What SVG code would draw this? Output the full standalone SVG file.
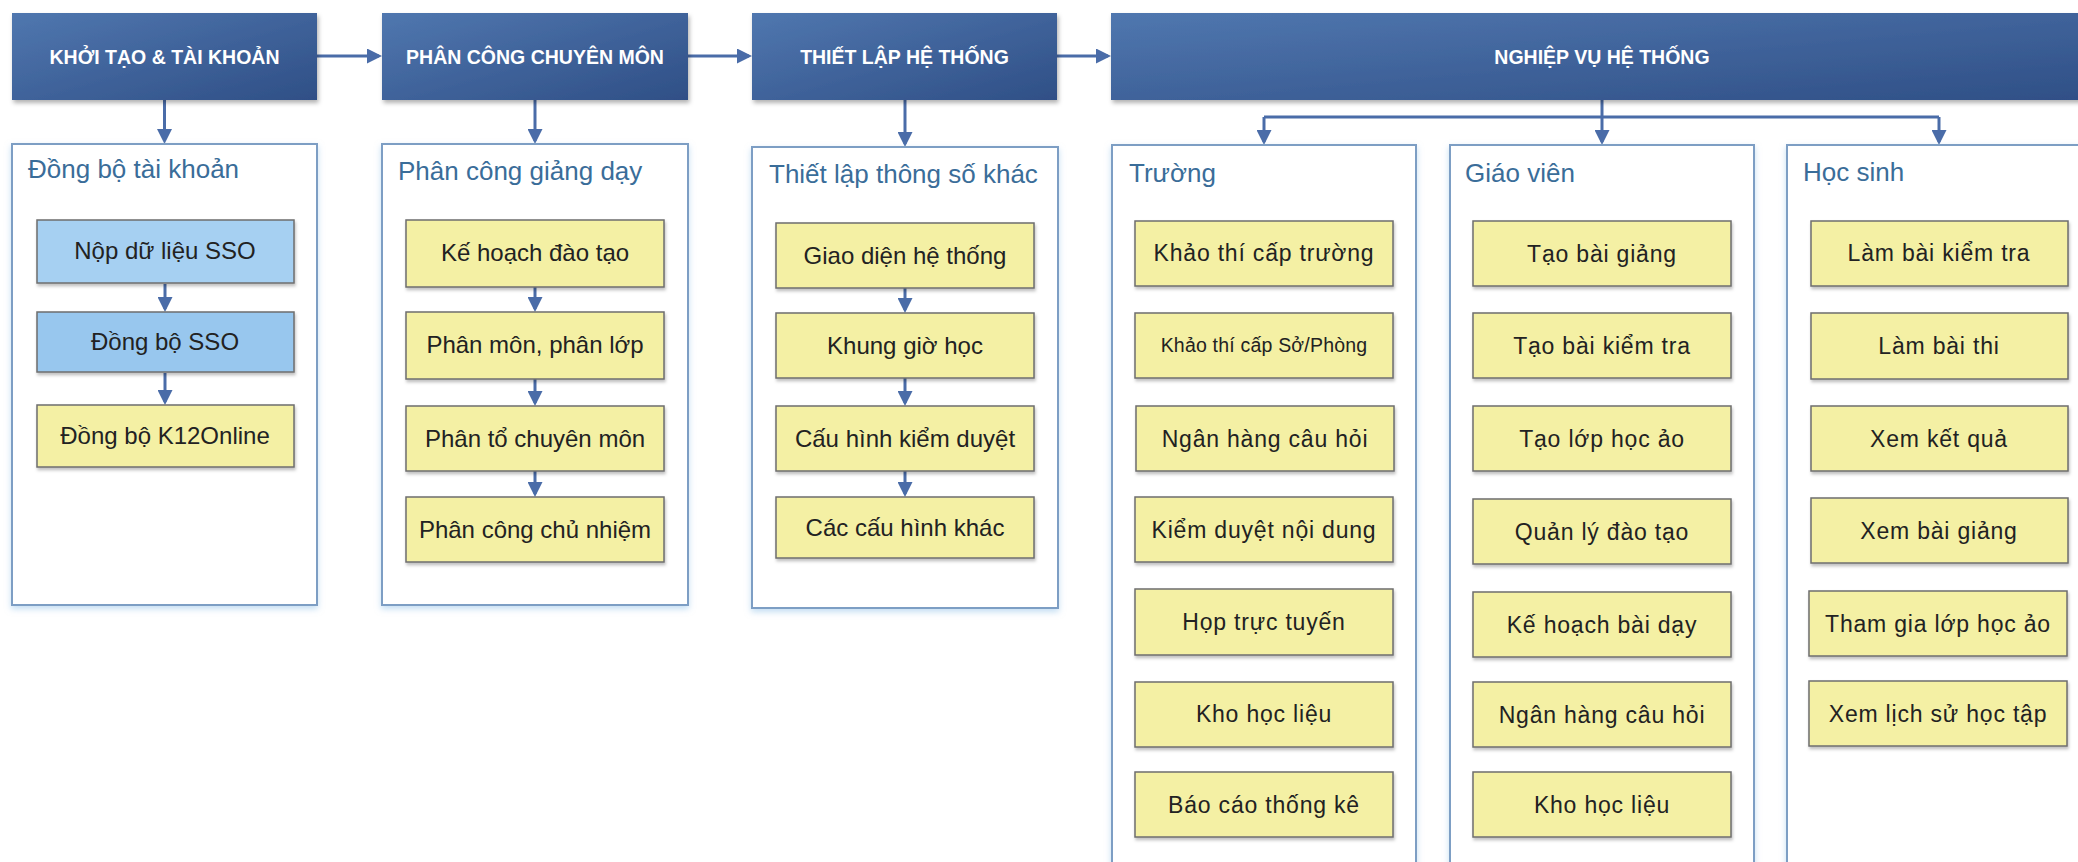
<svg xmlns="http://www.w3.org/2000/svg" width="2078" height="862" viewBox="0 0 2078 862">
<style>
.hdr{fill:url(#hg);filter:url(#sh)}
.htx{font-family:"Liberation Sans",Arial,sans-serif;font-size:19.5px;font-weight:bold;fill:#ffffff;text-anchor:middle}
.grp{fill:#ffffff;stroke:#7d9ec4;stroke-width:2;filter:url(#gs)}
.gtl{font-family:"Liberation Sans",Arial,sans-serif;font-size:26px;fill:#3a6d99}
.it{fill:#f4f0a4;stroke:#6e6e6e;stroke-width:1.5;filter:url(#is)}
.itb{fill:#a6d0f2;stroke:#6e6e6e;stroke-width:1.5;filter:url(#is)}
.itb2{fill:#98c7ee;stroke:#6e6e6e;stroke-width:1.5;filter:url(#is)}
.t1{font-family:"Liberation Sans",Arial,sans-serif;font-size:24px;fill:#222;text-anchor:middle}
.t2{font-family:"Liberation Sans",Arial,sans-serif;font-size:23px;letter-spacing:0.8px;fill:#222;text-anchor:middle}
.t3{font-family:"Liberation Sans",Arial,sans-serif;font-size:19.5px;letter-spacing:0.2px;fill:#222;text-anchor:middle}
.cn{fill:none;stroke:#4a6ca8;stroke-width:3}
.ar{marker-end:url(#ah)}
</style>
<defs>
<linearGradient id="hg" x1="0" y1="0" x2="1" y2="1">
<stop offset="0" stop-color="#5077af"/>
<stop offset="1" stop-color="#2f4f86"/>
</linearGradient>
<filter id="sh" x="-5%" y="-10%" width="115%" height="140%"><feDropShadow dx="1.5" dy="3" stdDeviation="2" flood-color="#000" flood-opacity="0.3"/></filter>
<filter id="gs" x="-5%" y="-5%" width="110%" height="115%"><feDropShadow dx="0" dy="3" stdDeviation="3" flood-color="#9cc8ea" flood-opacity="0.6"/></filter>
<filter id="is" x="-5%" y="-10%" width="115%" height="140%"><feDropShadow dx="1" dy="2.5" stdDeviation="1.5" flood-color="#000" flood-opacity="0.25"/></filter>
<marker id="ah" viewBox="0 0 10 10" refX="8" refY="5" markerWidth="5" markerHeight="5" orient="auto" markerUnits="strokeWidth"><path d="M0,0 L10,5 L0,10 z" fill="#4a6ca8"/></marker>
</defs>

<g id="connectors">
<path class="cn ar" d="M317,56 H379"/>
<path class="cn ar" d="M688,56 H749"/>
<path class="cn ar" d="M1057,56 H1108"/>
<path class="cn ar" d="M164.5,100 V141"/>
<path class="cn ar" d="M535,100 V141"/>
<path class="cn ar" d="M905,100 V144"/>
<path class="cn ar" d="M1602,100 V142"/>
<path class="cn" d="M1264,117 H1939"/>
<path class="cn ar" d="M1264,117 V142"/>
<path class="cn ar" d="M1939,117 V142"/>
</g>

<g id="h1"><rect class="hdr" x="12" y="13" width="305" height="87"/><text class="htx" x="164.5" y="64">KHỞI TẠO &amp; TÀI KHOẢN</text></g>
<g id="h2"><rect class="hdr" x="382" y="13" width="306" height="87"/><text class="htx" x="535" y="64">PHÂN CÔNG CHUYÊN MÔN</text></g>
<g id="h3"><rect class="hdr" x="752" y="13" width="305" height="87"/><text class="htx" x="904.5" y="64">THIẾT LẬP HỆ THỐNG</text></g>
<g id="h4"><rect class="hdr" x="1111" y="13" width="982" height="87"/><text class="htx" x="1602" y="64">NGHIỆP VỤ HỆ THỐNG</text></g>

<g id="g1">
<rect class="grp" x="12" y="144" width="305" height="461"/>
<text class="gtl" x="28" y="178">Đồng bộ tài khoản</text>
</g>
<g id="g2">
<rect class="grp" x="382" y="144" width="306" height="461"/>
<text class="gtl" x="398" y="180">Phân công giảng dạy</text>
</g>
<g id="g3">
<rect class="grp" x="752" y="147" width="306" height="461"/>
<text class="gtl" x="769" y="183">Thiết lập thông số khác</text>
</g>
<g id="g4a">
<rect class="grp" x="1112" y="145" width="304" height="760"/>
<text class="gtl" x="1129" y="182">Trường</text>
</g>
<g id="g4b">
<rect class="grp" x="1450" y="145" width="304" height="760"/>
<text class="gtl" x="1465" y="182">Giáo viên</text>
</g>
<g id="g4c">
<rect class="grp" x="1787" y="145" width="306" height="760"/>
<text class="gtl" x="1803" y="181">Học sinh</text>
</g>

<g id="connectors-inner">
<path class="cn ar" d="M165,284 V309"/>
<path class="cn ar" d="M165,373 V402"/>
<path class="cn ar" d="M535,287 V309"/>
<path class="cn ar" d="M535,379 V403"/>
<path class="cn ar" d="M535,471 V494"/>
<path class="cn ar" d="M905,288 V310"/>
<path class="cn ar" d="M905,378 V403"/>
<path class="cn ar" d="M905,471 V494"/>
</g>

<g id="n1a"><rect class="itb" x="37" y="220" width="257" height="63"/><text class="t1" x="165" y="259">Nộp dữ liệu SSO</text></g>
<g id="n1b"><rect class="itb2" x="37" y="312" width="257" height="60"/><text class="t1" x="165" y="350">Đồng bộ SSO</text></g>
<g id="n1c"><rect class="it" x="37" y="405" width="257" height="62"/><text class="t1" x="165" y="444">Đồng bộ K12Online</text></g>

<g id="n2a"><rect class="it" x="406" y="220" width="258" height="67"/><text class="t1" x="535" y="261">Kế hoạch đào tạo</text></g>
<g id="n2b"><rect class="it" x="406" y="312" width="258" height="67"/><text class="t1" x="535" y="353">Phân môn, phân lớp</text></g>
<g id="n2c"><rect class="it" x="406" y="406" width="258" height="65"/><text class="t1" x="535" y="447">Phân tổ chuyên môn</text></g>
<g id="n2d"><rect class="it" x="406" y="497" width="258" height="65"/><text class="t1" x="535" y="538">Phân công chủ nhiệm</text></g>

<g id="n3a"><rect class="it" x="776" y="223" width="258" height="65"/><text class="t1" x="905" y="264">Giao diện hệ thống</text></g>
<g id="n3b"><rect class="it" x="776" y="313" width="258" height="65"/><text class="t1" x="905" y="354">Khung giờ học</text></g>
<g id="n3c"><rect class="it" x="776" y="406" width="258" height="65"/><text class="t1" x="905" y="447">Cấu hình kiểm duyệt</text></g>
<g id="n3d"><rect class="it" x="776" y="497" width="258" height="61"/><text class="t1" x="905" y="536">Các cấu hình khác</text></g>

<g id="n4a1"><rect class="it" x="1135" y="221" width="258" height="65"/><text class="t2" x="1264" y="261">Khảo thí cấp trường</text></g>
<g id="n4a2"><rect class="it" x="1135" y="313" width="258" height="65"/><text class="t3" x="1264" y="352">Khảo thí cấp Sở/Phòng</text></g>
<g id="n4a3"><rect class="it" x="1136" y="406" width="258" height="65"/><text class="t2" x="1265" y="447">Ngân hàng câu hỏi</text></g>
<g id="n4a4"><rect class="it" x="1135" y="497" width="258" height="65"/><text class="t2" x="1264" y="538">Kiểm duyệt nội dung</text></g>
<g id="n4a5"><rect class="it" x="1135" y="589" width="258" height="66"/><text class="t2" x="1264" y="630">Họp trực tuyến</text></g>
<g id="n4a6"><rect class="it" x="1135" y="682" width="258" height="65"/><text class="t2" x="1264" y="722">Kho học liệu</text></g>
<g id="n4a7"><rect class="it" x="1135" y="772" width="258" height="65"/><text class="t2" x="1264" y="813">Báo cáo thống kê</text></g>

<g id="n4b1"><rect class="it" x="1473" y="221" width="258" height="65"/><text class="t2" x="1602" y="262">Tạo bài giảng</text></g>
<g id="n4b2"><rect class="it" x="1473" y="313" width="258" height="65"/><text class="t2" x="1602" y="354">Tạo bài kiểm tra</text></g>
<g id="n4b3"><rect class="it" x="1473" y="406" width="258" height="65"/><text class="t2" x="1602" y="447">Tạo lớp học ảo</text></g>
<g id="n4b4"><rect class="it" x="1473" y="499" width="258" height="65"/><text class="t2" x="1602" y="540">Quản lý đào tạo</text></g>
<g id="n4b5"><rect class="it" x="1473" y="592" width="258" height="65"/><text class="t2" x="1602" y="633">Kế hoạch bài dạy</text></g>
<g id="n4b6"><rect class="it" x="1473" y="682" width="258" height="65"/><text class="t2" x="1602" y="723">Ngân hàng câu hỏi</text></g>
<g id="n4b7"><rect class="it" x="1473" y="772" width="258" height="65"/><text class="t2" x="1602" y="813">Kho học liệu</text></g>

<g id="n4c1"><rect class="it" x="1811" y="221" width="257" height="65"/><text class="t2" x="1939" y="261">Làm bài kiểm tra</text></g>
<g id="n4c2"><rect class="it" x="1811" y="313" width="257" height="66"/><text class="t2" x="1939" y="354">Làm bài thi</text></g>
<g id="n4c3"><rect class="it" x="1811" y="406" width="257" height="65"/><text class="t2" x="1939" y="447">Xem kết quả</text></g>
<g id="n4c4"><rect class="it" x="1811" y="498" width="257" height="65"/><text class="t2" x="1939" y="539">Xem bài giảng</text></g>
<g id="n4c5"><rect class="it" x="1809" y="591" width="258" height="65"/><text class="t2" x="1938" y="632">Tham gia lớp học ảo</text></g>
<g id="n4c6"><rect class="it" x="1809" y="681" width="258" height="65"/><text class="t2" x="1938" y="722">Xem lịch sử học tập</text></g>
</svg>
